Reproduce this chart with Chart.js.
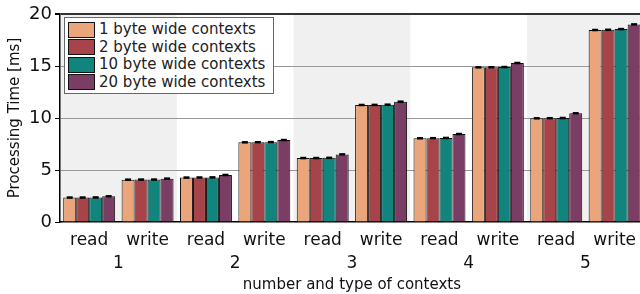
<!DOCTYPE html>
<html>
<head>
<meta charset="utf-8">
<script src="https://cdn.jsdelivr.net/npm/chart.js@4"></script>
<style>
	body { margin: 0; overflow: hidden; background: #fff; }
	#wrap { position: relative; width: 644px; height: 294px; }
	#legend {
		position: absolute; left: 64px; top: 17px; width: 205px;
		border: 1px solid #666; background: #fff; padding: 3px 0 2px 3px;
		font-family: "DejaVu Sans", sans-serif; font-size: 15px; color: #222;
	}
	#legend div { height: 17.5px; line-height: 17px; display: flex; align-items: center; }
	#legend span.sw { display: inline-block; width: 25px; height: 14px; border: 1px solid #111; margin-right: 4px; }
</style>
</head>
<body>
<div id="wrap">
	<canvas id="chart" width="644" height="294"></canvas>
	<div id="legend"></div>
</div>
<script>
const categories = ["read", "write", "read", "write", "read", "write", "read", "write", "read", "write"];
const groups = ["1", "2", "3", "4", "5"];
const seriesNames = ["1 byte wide contexts", "2 byte wide contexts", "10 byte wide contexts", "20 byte wide contexts"];
const colors = ["#EAA57B", "#A7444A", "#12847E", "#7A3E65"];

const bytes1 = [2.35, 4.07, 4.27, 7.66, 6.15, 11.25, 8.05, 14.87, 9.97, 18.46];
const bytes2 = [2.35, 4.08, 4.28, 7.67, 6.15, 11.26, 8.06, 14.88, 9.98, 18.48];
const bytes10 = [2.36, 4.08, 4.29, 7.68, 6.17, 11.28, 8.08, 14.9, 10.0, 18.55];
const bytes20 = [2.47, 4.17, 4.52, 7.88, 6.5, 11.57, 8.46, 15.29, 10.45, 19.0];
const errs = [0.12, 0.12, 0.12, 0.12, 0.12, 0.12, 0.12, 0.12, 0.12, 0.12];

const font = "DejaVu Sans";

// grey bands behind groups 1, 3, 5
const bands = {
	id: "bands",
	beforeDraw(chart) {
		const ctx = chart.ctx, area = chart.chartArea, g = chart.scales.x2;
		const w = (area.right - area.left) / groups.length;
		ctx.save();
		ctx.fillStyle = "#F0F0F0";
		groups.forEach((lab, i) => {
			if (i % 2 === 0) {
				const cx = g.getPixelForValue(i);
				ctx.fillRect(cx - w / 2, area.top, w, area.bottom - area.top);
			}
		});
		ctx.restore();
	}
};

// little black error marks on top of each bar
const errorBars = {
	id: "errorBars",
	afterDatasetsDraw(chart) {
		const ctx = chart.ctx, y = chart.scales.y;
		ctx.save();
		ctx.fillStyle = "#000";
		chart.data.datasets.forEach((ds, di) => {
			chart.getDatasetMeta(di).data.forEach((bar, i) => {
				const v = ds.data[i], e = errs[i];
				const y1 = y.getPixelForValue(v + e), y2 = y.getPixelForValue(v - e);
				ctx.fillRect(bar.x - 3, y1, 6, Math.max(y2 - y1, 2.5));
			});
		});
		ctx.restore();
	}
};

const ctx = document.getElementById("chart").getContext("2d");
new Chart(ctx, {
	type: "bar",
	data: {
		labels: categories,
		datasets: [bytes1, bytes2, bytes10, bytes20].map((d, i) => ({
			label: seriesNames[i],
			data: d,
			backgroundColor: colors[i],
			borderColor: "#111",
			borderWidth: 1,
			categoryPercentage: 0.89,
			barPercentage: 1.0,
		})),
	},
	options: {
		responsive: false,
		animation: false,
		layout: { padding: { top: 14, right: 0, left: 0, bottom: 0 } },
		plugins: {
			legend: { display: false },
			tooltip: { enabled: false },
		},
		scales: {
			x: {
				position: "bottom",
				grid: { display: false, drawTicks: false },
				border: { color: "#000", width: 1.5 },
				ticks: { color: "#111", font: { family: font, size: 17 }, padding: 8, maxRotation: 0, autoSkip: false },
				afterFit: (s) => { s.height = 28; },
			},
			x2: {
				type: "category",
				position: "bottom",
				labels: groups,
				offset: true,
				grid: { display: false, drawTicks: false },
				border: { display: false },
				ticks: { color: "#111", font: { family: font, size: 17 }, padding: 3 },
				title: { display: true, text: "number and type of contexts", color: "#111", font: { family: font, size: 15 }, padding: { top: 0, bottom: 0 } },
				afterFit: (s) => { s.height = 44; },
			},
			y: {
				min: 0,
				max: 20,
				ticks: { stepSize: 5, color: "#111", font: { family: font, size: 18 }, padding: 3 },
				grid: {
					color: (c) => c.tick.value === 20 ? "#333" : (c.tick.value === 0 ? "rgba(0,0,0,0)" : "#999"),
					lineWidth: (c) => c.tick.value === 20 ? 2 : 1,
					tickColor: "#000",
					tickLength: 5,
				},
				border: { color: "#000", width: 1.5 },
				title: { display: true, text: "Processing Time [ms]", color: "#111", font: { family: font, size: 15 }, padding: { top: 6, bottom: 0 } },
				afterFit: (s) => { s.width = 60; },
			},
		},
	},
	plugins: [bands, errorBars],
});

// legend box drawn as html text
const legend = document.getElementById("legend");
seriesNames.forEach((name, i) => {
	const row = document.createElement("div");
	row.innerHTML = '<span class="sw" style="background:' + colors[i] + '"></span>' + name;
	legend.appendChild(row);
});
</script>
</body>
</html>
